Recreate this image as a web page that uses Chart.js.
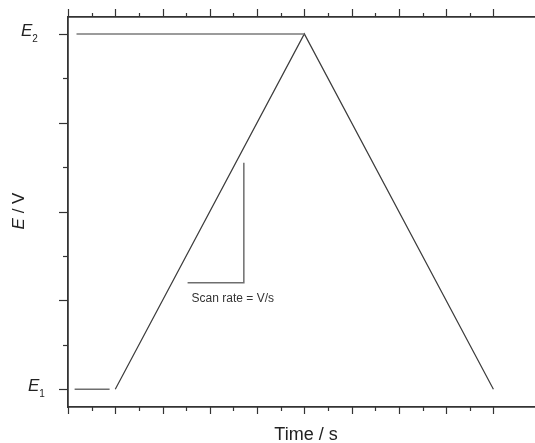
<!DOCTYPE html>
<html><head><meta charset="utf-8">
<script src="https://cdn.jsdelivr.net/npm/chart.js@4.4.1/dist/chart.umd.min.js"></script>
<style>html,body{margin:0;padding:0;background:#fff;overflow:hidden}#wrap{width:535px;height:443px;position:relative}</style>
</head><body><div id="wrap"><canvas id="c" width="535" height="443"></canvas></div>
<script>
// ---- Data (time in major-tick units; potential: E1 = 0, E2 = 4) ----
const holdE1Time = [0.14, 0.88];
const holdE1Pot  = [0, 0];
const holdE2Time = [0.18, 5];
const holdE2Pot  = [4, 4];
const sweepTime  = [1, 5, 9];
const sweepPot   = [0, 4, 0];
const rateMarkTime = [2.53, 3.72, 3.72];
const rateMarkPot  = [1.2, 1.2, 2.55];
const yLabelValues = [0, 4];
const yLabelSubs   = ['1', '2'];
const xTitle = 'Time / s';
const yTitleItalic = 'E';
const yTitleRest = ' / V';
const rateText = 'Scan rate = V/s';

const pts = (xs, ys) => xs.map((x, i) => ({x: x, y: ys[i]}));
const FONT = "'Liberation Sans', Arial, Helvetica, sans-serif";
const AXIS = '#333333';

function drawTicks(ctx, scale, side, majorLen, minorLen) {
  scale.ticks.forEach(t => {
    const v = t.value;
    const half = Math.round(v * 2) / 2;
    if (Math.abs(v - half) > 1e-6) return;
    const major = Math.abs(v - Math.round(v)) < 1e-6;
    const len = major ? majorLen : minorLen;
    const p = Math.round(scale.getPixelForValue(v)) + 0.5;
    ctx.beginPath();
    if (side === 'bottom') { const y0 = scale.top; ctx.moveTo(p, y0); ctx.lineTo(p, y0 + len); }
    else if (side === 'top') { const y0 = scale.bottom; ctx.moveTo(p, y0); ctx.lineTo(p, y0 - len); }
    else { const x0 = scale.right; ctx.moveTo(x0, p); ctx.lineTo(x0 - len, p); }
    ctx.stroke();
  });
}

const decor = {
  id: 'decor',
  afterDraw(chart) {
    const ctx = chart.ctx;
    const sx = chart.scales.x, sx2 = chart.scales.x2, sy = chart.scales.y;
    ctx.save();
    ctx.strokeStyle = AXIS;
    ctx.lineWidth = 1.2;
    drawTicks(ctx, sx, 'bottom', 7, 4);
    drawTicks(ctx, sx2, 'top', 8, 4);
    drawTicks(ctx, sy, 'left', 9, 5);

    // E1 / E2 tick labels
    ctx.fillStyle = '#222';
    ctx.textBaseline = 'alphabetic';
    const labelLeft = [28, 21];
    yLabelValues.forEach((v, i) => {
      const py = sy.getPixelForValue(v);
      ctx.font = 'italic 17px ' + FONT;
      ctx.textAlign = 'left';
      ctx.fillText('E', labelLeft[i], py + 2);
      const w = ctx.measureText('E').width;
      ctx.font = '10px ' + FONT;
      ctx.fillText(yLabelSubs[i], labelLeft[i] + w, py + 8);
    });

    // x axis title
    ctx.font = '18px ' + FONT;
    ctx.textAlign = 'center';
    ctx.fillText(xTitle, 306, 440);

    // y axis title (rotated)
    ctx.save();
    ctx.translate(24, 211);
    ctx.rotate(-Math.PI / 2);
    ctx.font = 'italic 17px ' + FONT;
    const wE = ctx.measureText(yTitleItalic).width;
    ctx.font = '17px ' + FONT;
    const wR = ctx.measureText(yTitleRest).width;
    const start = -(wE + wR) / 2;
    ctx.textAlign = 'left';
    ctx.font = 'italic 17px ' + FONT;
    ctx.fillText(yTitleItalic, start, 0);
    ctx.font = '17px ' + FONT;
    ctx.fillText(yTitleRest, start + wE, 0);
    ctx.restore();

    // scan-rate annotation text
    ctx.font = '12px ' + FONT;
    ctx.textAlign = 'left';
    ctx.fillStyle = '#333';
    ctx.fillText(rateText, sx.getPixelForValue(rateMarkTime[0]) + 4, sy.getPixelForValue(rateMarkPot[0]) + 19);
    ctx.restore();
  }
};

const axisBase = (pos) => ({
  type: 'linear', position: pos,
  grid: {display: false},
  border: {display: true, color: AXIS, width: 1.8},
  ticks: {display: false, stepSize: 0.5}
});

new Chart(document.getElementById('c'), {
  type: 'line',
  data: {
    datasets: [
      {data: pts(holdE1Time, holdE1Pot), borderColor: '#6e6e6e', borderWidth: 1.5},
      {data: pts(holdE2Time, holdE2Pot), borderColor: '#7a7a7a', borderWidth: 1.5},
      {data: pts(sweepTime, sweepPot), borderColor: '#3c3c3c', borderWidth: 1.2},
      {data: pts(rateMarkTime, rateMarkPot), borderColor: '#6e6e6e', borderWidth: 1.5}
    ]
  },
  options: {
    responsive: false, animation: false, devicePixelRatio: 1,
    layout: {padding: 0},
    plugins: {legend: {display: false}, tooltip: {enabled: false}},
    elements: {point: {radius: 0}, line: {tension: 0, fill: false}},
    scales: {
      x: Object.assign(axisBase('bottom'), {min: 0, max: 9.88, afterFit: s => { s.height = 36; }}),
      x2: Object.assign(axisBase('top'), {min: 0, max: 9.88, afterFit: s => { s.height = 17; }}),
      y: Object.assign(axisBase('left'), {min: -0.2, max: 4.19, afterFit: s => { s.width = 68; }})
    }
  },
  plugins: [decor]
});
</script>
</body></html>
